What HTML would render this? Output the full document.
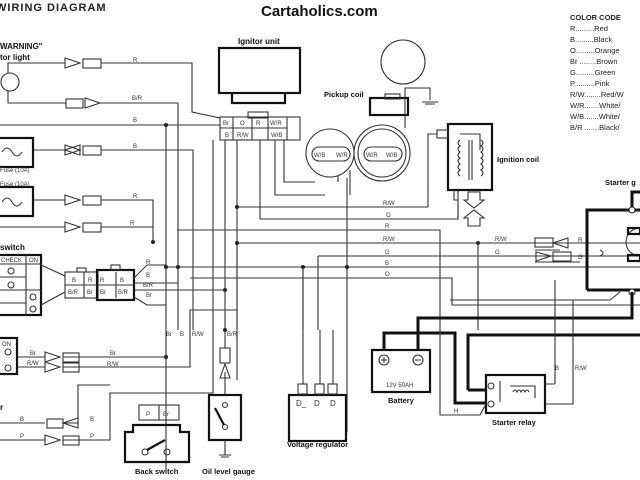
<!DOCTYPE html>
<html><head><style>
html,body{margin:0;padding:0;background:#fff;}
svg{display:block;font-family:"Liberation Sans",sans-serif;}
.w{fill:none;stroke:#333;stroke-width:1.1}
.t{fill:none;stroke:#111;stroke-width:3}
.b{fill:none;stroke:#111;stroke-width:2.2}
.s{font-size:6px;fill:#333}
.l{font-size:8px;fill:#111;font-weight:bold}
.c{font-size:7.5px;fill:#222}
</style></head><body>
<svg width="640" height="480" viewBox="0 0 640 480" xmlns="http://www.w3.org/2000/svg">
<rect width="640" height="480" fill="#fff"/>
<text x="-4" y="11" style="font-size:11px;font-weight:bold;letter-spacing:1px" fill="#222">WIRING DIAGRAM</text>
<text x="261" y="16" style="font-size:15px;font-weight:bold" fill="#111">Cartaholics.com</text>
<g class="c">
<text x="570" y="20" style="font-weight:bold">COLOR CODE</text>
<text x="570" y="31">R.........Red</text>
<text x="570" y="42">B.........Black</text>
<text x="570" y="53">O.........Orange</text>
<text x="570" y="64">Br ........Brown</text>
<text x="570" y="75">G.........Green</text>
<text x="570" y="86">P..........Pink</text>
<text x="570" y="97">R/W........Red/W</text>
<text x="570" y="108">W/R.......White/</text>
<text x="570" y="119">W/B.......White/</text>
<text x="570" y="130">B/R .......Black/</text>
</g>
<text x="0" y="49" class="l">WARNING"</text>
<text x="0" y="60" class="l">tor light</text>
<circle cx="10" cy="82" r="9" class="w"/>
<!-- left wires -->
<path class="w" d="M8 73V63H65M101 63H192V112L220 118M8 91V103H66M100 103H178V330M0 125H220M33 150H65M101 150H193V330M33 200H65M101 200H153V242M0 227H65M101 227H153"/>
<g class="w">
<path d="M65 58L80 63L65 68Z M80 145L65 150L80 155Z M65 145L80 150L65 155Z M65 195L80 200L65 205Z M65 222L80 227L65 232Z M85 98L100 103L85 108Z"/>
<rect x="83" y="59" width="18" height="9"/><rect x="66" y="99" width="17" height="9"/><rect x="83" y="146" width="18" height="9"/><rect x="83" y="196" width="18" height="9"/><rect x="83" y="223" width="18" height="9"/>
</g>
<rect x="-2" y="138" width="35" height="29" class="b"/><rect x="-2" y="187" width="35" height="29" class="b"/>
<path class="w" d="M2 152q5 -8 10 0t10 0 M2 202q5 -8 10 0t10 0"/>
<text x="0" y="172" class="s">Fuse (10A)</text><text x="0" y="186" class="s">Fuse (10A)</text>
<text x="133" y="62" class="s">R</text><text x="132" y="100" class="s">B/R</text><text x="133" y="122" class="s">B</text><text x="133" y="148" class="s">B</text><text x="133" y="198" class="s">R</text><text x="130" y="225" class="s">R</text>
<!-- ignitor -->
<text x="238" y="44" class="l">Ignitor unit</text>
<rect x="219" y="48" width="81" height="45" class="b"/><path class="b" d="M232 93V103H285V93"/>
<rect x="248" y="112" width="20" height="6" class="w"/>
<rect x="220" y="117" width="80" height="23" class="w"/>
<path class="w" d="M233 117V140M252 117V140M268 117V140M287 117V140M220 128H287"/>
<g class="s"><text x="223" y="125">Br</text><text x="240" y="125">O</text><text x="256" y="125">R</text><text x="270" y="125">W/R</text><text x="225" y="137">B</text><text x="237" y="137">R/W</text><text x="271" y="137">W/B</text></g>
<path class="w" d="M225 140V330M237 140V380M260 140V219H458V190M275 140V195H325M284 140V182H315M166 125V470M213 140L213 145V330"/>
<circle cx="330" cy="153" r="24" class="w"/><circle cx="382" cy="153" r="28" class="w"/><circle cx="382" cy="153" r="24" class="w"/>
<rect x="312" y="147" width="38" height="14" rx="7" class="w"/><rect x="364" y="147" width="38" height="14" rx="7" class="w"/>
<g class="s"><text x="314" y="157">W/B</text><text x="336" y="157">W/R</text><text x="366" y="157">W/R</text><text x="386" y="157">W/B</text></g>
<path class="w" d="M350 170V195M338 176V182M347 178V432"/>
<circle cx="403" cy="62" r="22" class="w"/>
<text x="324" y="97" class="l" style="font-size:7.5px">Pickup coil</text>
<rect x="370" y="98" width="38" height="17" class="b"/><rect x="385" y="94" width="15" height="5" class="w"/>
<path class="w" d="M405 128V88H430V100M422 102H438M425 104H435"/>
<!-- ignition coil -->
<rect x="448" y="124" width="44" height="66" class="b"/>
<rect x="437" y="130" width="11" height="8" class="w"/>
<path class="w" d="M428 207V134H437M460 134H480V150M460 140q-4 3 0 6q-4 3 0 6q-4 3 0 6q-4 3 0 6q-4 3 0 6q-4 3 0 6M481 140q4 3 0 6q4 3 0 6q4 3 0 6q4 3 0 6q4 3 0 6q4 3 0 6M469 140V180M472 140V180M454 190V200H458V219M468 192h12v8h4l-10 8-10-8h4zM468 226v-8h-4l10-8 10 8h-4v8z"/>
<text x="497" y="162" class="l" style="font-size:7.5px">Ignition coil</text>
<!-- horizontal bus -->
<path class="w" d="M237 207H428M177 230H440V330M237 243H640M318 256H640M166 267H640M190 278H452V305H640M318 256V330M303 267V330M237 243V340"/>
<text x="383" y="205" class="s">R/W</text><text x="386" y="217" class="s">O</text><text x="385" y="228" class="s">R</text><text x="383" y="241" class="s">R/W</text><text x="385" y="254" class="s">G</text><text x="385" y="265" class="s">B</text><text x="385" y="276" class="s">O</text>
<g fill="#222"><circle cx="166" cy="125" r="2"/><circle cx="237" cy="207" r="2"/><circle cx="237" cy="243" r="2"/><circle cx="166" cy="267" r="2"/><circle cx="178" cy="267" r="2"/><circle cx="303" cy="267" r="2"/><circle cx="347" cy="267" r="2"/><circle cx="153" cy="242" r="2"/><circle cx="225" cy="290" r="2"/><circle cx="166" cy="357" r="2"/><circle cx="478" cy="243" r="2"/><circle cx="225" cy="330" r="2"/></g>
<!-- starter gen -->
<text x="605" y="185" class="l" style="font-size:7.5px">Starter g</text>
<path class="t" d="M632 210V192H640M587 290V210H640M587 290H640"/>
<circle cx="632" cy="210" r="3" fill="#fff" stroke="#222"/><circle cx="632" cy="292" r="3" fill="#fff" stroke="#222"/>
<circle cx="640" cy="242" r="14" class="w"/><rect x="628" y="228" width="12" height="6" class="b"/><rect x="628" y="255" width="12" height="6" class="b"/>
<path class="w" d="M478 243H535M478 243V330M535 250H560M535 262H580M600 250q6 3 0 6M450 300H610L620 292M565 262"/>
<g class="w"><rect x="535" y="238" width="18" height="9"/><path d="M553 243L568 238V248Z"/><rect x="553" y="252" width="18" height="9"/><path d="M536 252L551 256L536 261Z"/></g>
<text x="578" y="242" class="s">R</text><text x="578" y="259" class="s">G</text><text x="495" y="241" class="s">R/W</text><text x="495" y="254" class="s">G</text>
<!-- thick power -->
<path class="t" d="M418 350V318H632V292M384 350V333H455V403H487M468 390V335H640M468 390H487"/>
<rect x="372" y="350" width="58" height="42" class="b"/>
<circle cx="384" cy="360" r="5" class="w"/><circle cx="418" cy="360" r="5" class="w"/>
<path class="w" d="M381 360h6M384 357v6M415 360h6"/>
<text x="386" y="387" class="s">12V 50AH</text><text x="388" y="403" class="l" style="font-size:7.5px">Battery</text>
<rect x="486" y="375" width="59" height="38" class="b"/>
<circle cx="491" cy="386" r="3" class="w"/><circle cx="491" cy="404" r="3" class="w"/>
<path class="w" d="M500 381V402M510 386H535V398M513 392q2-4 4 0q2-4 4 0q2-4 4 0q2-4 4 0M545 384H555M545 404H573V300M555 384V280M440 330V415H480L486 404"/>
<text x="492" y="425" class="l" style="font-size:7.5px">Starter relay</text>
<text x="454" y="413" class="s">H</text><text x="555" y="370" class="s">B</text><text x="575" y="370" class="s">R/W</text>
<!-- key switch -->
<text x="0" y="250" class="l">switch</text>
<rect x="-2" y="255" width="43" height="60" class="b"/>
<path class="w" d="M0 264H41M26 255V315M0 277H26M0 290H41M0 303H26"/>
<text x="1" y="262" class="s">CHECK</text><text x="29" y="262" class="s">ON</text>
<circle cx="11" cy="271" r="3" class="w"/><circle cx="11" cy="285" r="3" class="w"/><circle cx="33" cy="297" r="3" class="w"/><circle cx="33" cy="309" r="3" class="w"/>
<path class="w" d="M41 265L65 276M41 305L65 292"/>
<rect x="65" y="272" width="33" height="26" class="w"/><rect x="77" y="268" width="9" height="4" class="w"/>
<rect x="97" y="270" width="37" height="30" class="b"/><rect x="111" y="265" width="9" height="5" class="w"/>
<path class="w" d="M65 285H134M84 272V298M116 272V298M134 278L147 265H166M134 283H178M134 290H225M134 297L147 305H166"/>
<g class="s"><text x="72" y="282">B</text><text x="88" y="282">R</text><text x="100" y="282">R</text><text x="120" y="282">B</text><text x="68" y="294">B/R</text><text x="87" y="294">Br</text><text x="100" y="294">Br</text><text x="118" y="294">B/R</text><text x="146" y="264">R</text><text x="146" y="277">B</text><text x="143" y="287">B/R</text><text x="146" y="297">Br</text></g>
<!-- lower left -->
<rect x="-2" y="338" width="19" height="36" class="b"/><text x="2" y="346" class="s">ON</text><circle cx="8" cy="352" r="3" class="w"/><circle cx="8" cy="368" r="3" class="w"/>
<path class="w" d="M17 357H45M63 357H166M17 367H45M63 367H190V310H237M0 423H45M63 423H78M0 440H45M63 440H110V393H213V330M78 423V385H110M95 423"/>
<g class="w"><path d="M45 352L60 357L45 362Z M45 362L60 367L45 372Z M78 418L63 423L78 428Z M45 435L60 440L45 445Z"/><rect x="63" y="353" width="16" height="9"/><rect x="63" y="363" width="16" height="9"/><rect x="47" y="419" width="16" height="9"/><rect x="63" y="436" width="16" height="9"/></g>
<text x="0" y="410" class="l">r</text>
<g class="s"><text x="30" y="355">Br</text><text x="27" y="365">R/W</text><text x="110" y="355">Br</text><text x="107" y="366">R/W</text><text x="20" y="421">B</text><text x="90" y="421">B</text><text x="20" y="438">P</text><text x="90" y="438">P</text><text x="166" y="336">Br</text><text x="180" y="336">B</text><text x="192" y="336">R/W</text><text x="227" y="336">B/R</text></g>
<!-- back switch -->
<rect x="139" y="405" width="40" height="15" class="w"/><path class="w" d="M159 405V420"/><text x="146" y="416" class="s">P</text><text x="163" y="416" class="s">Br</text>
<path class="b" d="M125 432V462H189V432H180V425H133V432Z"/>
<circle cx="145" cy="452" r="3" class="w"/><circle cx="167" cy="452" r="3" class="w"/><path class="b" d="M147 450L165 440"/>
<text x="135" y="474" class="l" style="font-size:7.5px">Back switch</text>
<!-- oil -->
<path class="w" d="M225 330V348M225 372V395M225 440V455M219 455h12M221 457h8"/>
<rect x="220" y="348" width="10" height="15" class="w"/><path class="w" d="M220 378L225 364L230 378Z"/>
<rect x="209" y="395" width="32" height="45" class="b"/>
<circle cx="225" cy="405" r="2.5" class="w"/><circle cx="225" cy="427" r="2.5" class="w"/><path class="b" d="M215 408L224 425"/>
<text x="202" y="474" class="l" style="font-size:7.5px">Oil level gauge</text>
<!-- regulator -->
<rect x="289" y="395" width="57" height="46" class="b"/>
<rect x="298" y="384" width="9" height="10" class="w"/><rect x="315" y="384" width="9" height="10" class="w"/><rect x="328" y="384" width="9" height="10" class="w"/>
<path class="w" d="M303 267V384M320 330V384M333 330V384"/>
<text x="296" y="406" class="s" style="font-size:8px">D_</text><text x="314" y="406" class="s" style="font-size:8px">D</text><text x="330" y="406" class="s" style="font-size:8px">D</text>
<text x="287" y="447" class="l" style="font-size:7.5px">Voltage regulator</text>
</svg>
</body></html>
